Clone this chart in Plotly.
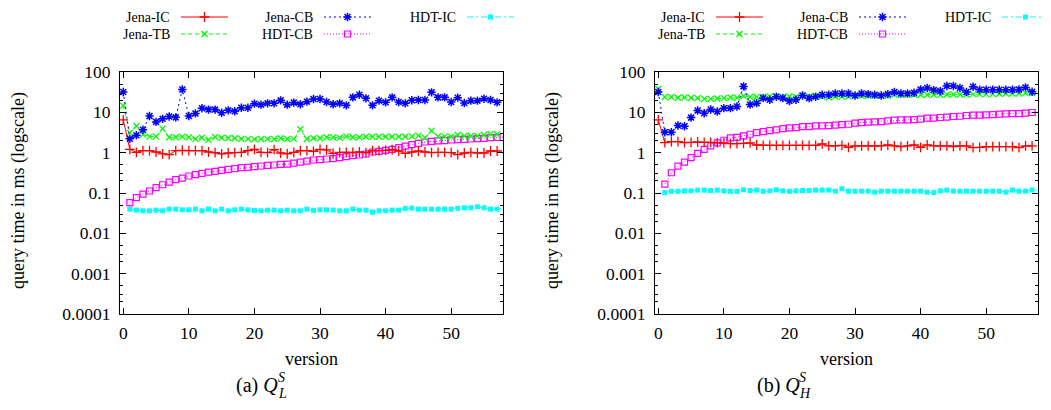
import plotly.graph_objects as go

# ---------------- data ----------------
versions_jena = list(range(0, 58))
versions_hdt = list(range(1, 59))

series_names = ["Jena-IC", "Jena-TB", "Jena-CB", "HDT-CB", "HDT-IC"]

# (a) Q_L^S
a_jena_ic = [6.5, 1.2, 1.02, 1.12, 1.12, 1.04, 0.93, 0.89, 1.12, 1.14,
             1.12, 1.12, 1.12, 1.04, 1.0, 0.93, 0.98, 1.0, 1.02, 1.12,
             1.21, 1.02, 1.0, 1.19, 0.98, 0.94, 1.02, 1.12, 1.12, 1.08,
             1.2, 1.17, 0.96, 1.02, 1.02, 1.02, 1.04, 1.0, 1.12, 1.12,
             1.14, 1.18, 1.1, 0.96, 1.04, 1.1, 1.04, 1.0, 1.02, 1.02,
             1.0, 0.89, 0.98, 1.02, 0.98, 0.98, 1.1, 1.1]
a_jena_tb = [14.6, 3.1, 4.6, 2.8, 2.5, 2.5, 3.9, 2.4, 2.4, 2.5,
             2.4, 2.2, 2.35, 2.1, 2.45, 2.35, 2.3, 2.27, 2.22, 2.2,
             2.14, 2.18, 2.2, 2.18, 2.27, 2.18, 2.2, 3.8, 2.18, 2.27,
             2.27, 2.4, 2.4, 2.35, 2.54, 2.4, 2.4, 2.49, 2.49, 2.49,
             2.49, 2.49, 2.49, 2.49, 2.54, 2.64, 2.35, 3.5, 2.54, 2.54,
             2.49, 2.74, 2.59, 2.59, 2.59, 2.74, 2.85, 2.85]
a_jena_cb = [32, 2.2, 2.7, 3.7, 8.1, 5.8, 6.9, 7.9, 7.5, 37,
             8.1, 9.4, 12.6, 11.7, 11.7, 9.8, 11.2, 10.6, 13, 13,
             16.4, 15.5, 16.7, 16.7, 19.8, 15.5, 17.4, 15.8, 18.4, 21.4,
             21.4, 18, 15.8, 16.7, 14.9, 23.5, 27.4, 22.2, 14.9, 19.5,
             17.7, 23.5, 18, 16.7, 19.9, 20.3, 20.3, 31.3, 23.5, 23.5,
             18, 23.1, 17, 19.5, 19.5, 21.8, 20.3, 17.7]
a_hdt_cb = [0.058, 0.077, 0.094, 0.112, 0.136, 0.16, 0.187, 0.214, 0.235, 0.264,
            0.284, 0.307, 0.33, 0.345, 0.365, 0.386, 0.40, 0.425, 0.43, 0.45,
            0.467, 0.485, 0.495, 0.51, 0.52, 0.55, 0.58, 0.615, 0.658, 0.67,
            0.697, 0.71, 0.752, 0.796, 0.843, 0.875, 0.927, 1.04, 1.08, 1.14,
            1.21, 1.33, 1.46, 1.58, 1.70, 1.84, 1.91, 1.95, 1.98, 2.06,
            2.1, 2.14, 2.18, 2.22, 2.27, 2.35, 2.4, 2.45]
a_hdt_ic = [0.0398, 0.0376, 0.0362, 0.0362, 0.0376, 0.0362, 0.0398, 0.0398, 0.0383, 0.0383,
            0.0398, 0.0362, 0.0398, 0.0362, 0.0398, 0.0362, 0.0383, 0.0398, 0.0383, 0.0369,
            0.0362, 0.0376, 0.0376, 0.0362, 0.0376, 0.0362, 0.0362, 0.0398, 0.0369, 0.0383,
            0.0383, 0.0376, 0.0362, 0.0362, 0.0398, 0.0376, 0.0376, 0.0335, 0.0362, 0.0362,
            0.0376, 0.0376, 0.0414, 0.0422, 0.0398, 0.0398, 0.0398, 0.0398, 0.0398, 0.0398,
            0.0414, 0.043, 0.043, 0.0455, 0.043, 0.0398, 0.0398, 0.0422]

# (b) Q_H^S
b_jena_ic = [6.5, 1.77, 1.88, 1.88, 1.77, 1.8, 1.84, 1.8, 1.8, 1.74,
             1.74, 1.67, 1.67, 1.7, 1.74, 1.55, 1.52, 1.52, 1.52, 1.52,
             1.52, 1.52, 1.52, 1.52, 1.52, 1.65, 1.47, 1.47, 1.52, 1.36,
             1.47, 1.47, 1.47, 1.47, 1.47, 1.55, 1.47, 1.41, 1.47, 1.55,
             1.36, 1.55, 1.47, 1.47, 1.47, 1.41, 1.47, 1.47, 1.33, 1.36,
             1.41, 1.41, 1.41, 1.41, 1.41, 1.33, 1.47, 1.47]
b_jena_tb = [37.8, 23.9, 23.9, 23, 23.4, 23, 22.5, 21.6, 21.6, 22,
             22.5, 23.4, 23, 25.3, 23.9, 23.9, 23.9, 24.8, 24.8, 23.9,
             24.8, 23.9, 25.7, 24.8, 25.7, 24.5, 23.4, 24.8, 24.8, 24.8,
             25.7, 25.7, 25.7, 25.7, 25.7, 25.7, 27.3, 27.3, 27.3, 27.3,
             27.3, 27.3, 27.3, 27.3, 27.8, 27.8, 27.8, 27.8, 28.3, 28.3,
             28.3, 28.3, 28.9, 29.4, 29.4, 29.4, 30, 30]
b_jena_cb = [31.8, 3.2, 3.2, 4.7, 4.5, 7.4, 11.1, 9.5, 11.8, 10.5,
             12.7, 12.7, 14, 44, 15.7, 16.9, 22.5, 20.5, 24.3, 22.5,
             19, 20.5, 26.2, 22.5, 24.3, 27.3, 27.3, 29.4, 29.4, 29.4,
             26.2, 29.4, 28.3, 27.3, 26.2, 28.3, 31.8, 29.4, 29.4, 30.6,
             37, 40, 35.6, 33.6, 44.8, 44.8, 40, 31.8, 43, 36.3,
             36.3, 36.3, 36.3, 36.3, 36.3, 37, 41.5, 32.4]
b_hdt_cb = [0.166, 0.318, 0.466, 0.586, 0.751, 0.962, 1.21, 1.47, 1.74, 2.03,
            2.32, 2.4, 2.6, 2.86, 3.15, 3.33, 3.53, 3.67, 3.96, 4.1,
            4.19, 4.44, 4.44, 4.6, 4.6, 4.7, 4.8, 4.98, 5.07, 5.37,
            5.58, 5.69, 5.8, 5.91, 6.14, 6.38, 6.5, 6.5, 6.6, 6.76,
            7.16, 7.16, 7.44, 7.58, 7.88, 8.0, 8.34, 8.5, 8.5, 8.66,
            8.8, 8.98, 9.15, 9.3, 9.3, 9.53, 9.9, 10.1]
b_hdt_ic = [0.103, 0.11, 0.11, 0.113, 0.113, 0.118, 0.118, 0.115, 0.118, 0.113,
            0.11, 0.11, 0.12, 0.115, 0.118, 0.11, 0.113, 0.12, 0.113, 0.11,
            0.113, 0.115, 0.115, 0.118, 0.118, 0.118, 0.111, 0.127, 0.111, 0.111,
            0.111, 0.111, 0.105, 0.111, 0.111, 0.111, 0.111, 0.111, 0.111, 0.111,
            0.105, 0.103, 0.113, 0.118, 0.111, 0.111, 0.111, 0.111, 0.111, 0.111,
            0.111, 0.111, 0.105, 0.118, 0.111, 0.111, 0.118, 0.118]

y_tick_vals = [0.0001, 0.001, 0.01, 0.1, 1, 10, 100]
y_tick_text = ["0.0001", "0.001", "0.01", "0.1", "1", "10", "100"]
x_tick_vals = [0, 10, 20, 30, 40, 50]
y_title = "query time in ms (logscale)"
x_title = "version"

# ---------------- styles ----------------
FONT = "Liberation Serif, Times New Roman, serif"
styles = {
    "Jena-IC": dict(color="#ff0000", dash="solid", symbol="cross-thin-open", size=7, lw=1.3),
    "Jena-TB": dict(color="#00ff00", dash="4px,3px", symbol="x-thin-open", size=6, lw=1.3),
    "Jena-CB": dict(color="#0000ff", dash="2px,3px", symbol="asterisk-open", size=7, lw=1.5),
    "HDT-CB": dict(color="#ff00ff", dash="1px,2px", symbol="square-open", size=6, lw=1.2),
    "HDT-IC": dict(color="#00ffff", dash="6px,3px,2px,3px", symbol="square", size=5, lw=0),
}

panels = [
    ("x", "y", {"Jena-IC": (versions_jena, a_jena_ic), "Jena-TB": (versions_jena, a_jena_tb),
                "Jena-CB": (versions_jena, a_jena_cb), "HDT-CB": (versions_hdt, a_hdt_cb),
                "HDT-IC": (versions_hdt, a_hdt_ic)}),
    ("x2", "y2", {"Jena-IC": (versions_jena, b_jena_ic), "Jena-TB": (versions_jena, b_jena_tb),
                  "Jena-CB": (versions_jena, b_jena_cb), "HDT-CB": (versions_hdt, b_hdt_cb),
                  "HDT-IC": (versions_hdt, b_hdt_ic)}),
]

fig = go.Figure()
draw_order = ["HDT-IC", "HDT-CB", "Jena-TB", "Jena-IC", "Jena-CB"]
for xa, ya, data in panels:
    for name in draw_order:
        xs, ys = data[name]
        st = styles[name]
        fig.add_trace(go.Scatter(
            x=xs, y=ys, mode="lines+markers", name=name, showlegend=False,
            xaxis=xa, yaxis=ya, cliponaxis=False,
            line=dict(color=st["color"], width=1, dash=st["dash"]),
            marker=dict(symbol=st["symbol"], size=st["size"], color=st["color"],
                        line=dict(color=st["color"], width=st["lw"])),
        ))

# ---------------- geometry helpers ----------------
W, H = 1051, 410
OFF = 8  # page body margin of the written html


def pxx(x):
    return (x - OFF) / W


def pxy(y):
    return 1 - (y - OFF) / H


# ---------------- custom gnuplot-style key ----------------
key_layout = {"Jena-IC": (0, 0), "Jena-TB": (0, 1), "Jena-CB": (1, 0), "HDT-CB": (1, 1), "HDT-IC": (2, 0)}
col_text_right = [171, 314, 457]
row_y = [17, 34]
panel_offset = [0, 535]
annotations = []
for off in panel_offset:
    for name in series_names:
        c, r = key_layout[name]
        st = styles[name]
        tx = col_text_right[c] + off
        x0, x1 = tx + 10, tx + 57
        yy = row_y[r]
        fig.add_trace(go.Scatter(
            x=[x0 - OFF, x1 - OFF], y=[yy - OFF, yy - OFF], mode="lines", xaxis="x3", yaxis="y3",
            showlegend=False, line=dict(color=st["color"], width=1, dash=st["dash"]),
            hoverinfo="skip", cliponaxis=False))
        fig.add_trace(go.Scatter(
            x=[(x0 + x1) / 2 - OFF], y=[yy - OFF], mode="markers", xaxis="x3", yaxis="y3",
            showlegend=False,
            marker=dict(symbol=st["symbol"], size=st["size"], color=st["color"],
                        line=dict(color=st["color"], width=st["lw"])), hoverinfo="skip", cliponaxis=False))
        annotations.append(dict(x=pxx(tx), y=pxy(yy), xref="paper", yref="paper", text=name,
                                showarrow=False, xanchor="right", yanchor="middle", borderpad=0,
                                font=dict(family=FONT, size=14, color="black")))

# plot geometry (page pixels)
left_dom = [pxx(120), pxx(503)]
right_dom = [pxx(655), pxx(1038)]
y_dom = [pxy(314), pxy(72)]

minor_vals = []
for e in range(-4, 2):
    for m in (2, 3, 5):
        minor_vals.append(m * 10 ** e)


def yaxis_cfg(anchor):
    return dict(type="log", range=[-4, 2], domain=y_dom, anchor=anchor,
                tickmode="array", tickvals=y_tick_vals, ticktext=y_tick_text,
                ticks="inside", ticklen=6, tickwidth=1, tickcolor="black",
                showline=True, linecolor="black", linewidth=1.2, mirror="allticks",
                showgrid=False, zeroline=False, ticklabelstandoff=5, automargin=False,
                minor=dict(ticks="inside", ticklen=3, tickwidth=1, tickcolor="black",
                           tickmode="array", tickvals=minor_vals, showgrid=False),
                tickfont=dict(family=FONT, size=17.5, color="black"))


def xaxis_cfg(dom, anchor):
    return dict(range=[-0.5, 57.9], domain=dom, anchor=anchor,
                tickmode="array", tickvals=x_tick_vals,
                ticks="inside", ticklen=6, tickwidth=1, tickcolor="black",
                showline=True, linecolor="black", linewidth=1.2, mirror="allticks",
                showgrid=False, zeroline=False, ticklabelstandoff=3, automargin=False,
                tickfont=dict(family=FONT, size=17.5, color="black"))


# axis titles and captions
for cx, ycx, capx, cap_letter, sub in [((120 + 503) / 2, 19, 234, "(a)", "L"),
                                       ((655 + 1038) / 2, 553, 755, "(b)", "H")]:
    annotations.append(dict(x=pxx(cx), y=pxy(359), xref="paper", yref="paper", text=x_title,
                            showarrow=False, xanchor="center", yanchor="middle",
                            font=dict(family=FONT, size=18, color="black")))
    annotations.append(dict(x=pxx(ycx), y=pxy(191), xref="paper", yref="paper", text=y_title,
                            showarrow=False, xanchor="center", yanchor="middle", textangle=-90,
                            font=dict(family=FONT, size=18, color="black")))
    annotations.append(dict(x=pxx(capx), y=pxy(385), xref="paper", yref="paper",
                            text=cap_letter + " <i>Q</i>", showarrow=False, xanchor="left",
                            yanchor="middle", font=dict(family=FONT, size=20, color="black")))
    annotations.append(dict(x=pxx(capx + 42), y=pxy(377), xref="paper", yref="paper",
                            text="<i>S</i>", showarrow=False, xanchor="left",
                            yanchor="middle", font=dict(family=FONT, size=14, color="black")))
    annotations.append(dict(x=pxx(capx + 42), y=pxy(393), xref="paper", yref="paper",
                            text="<i>" + sub + "</i>", showarrow=False, xanchor="left",
                            yanchor="middle", font=dict(family=FONT, size=14, color="black")))

fig.update_layout(
    width=W, height=H, margin=dict(l=0, r=0, t=0, b=0, autoexpand=False),
    paper_bgcolor="white", plot_bgcolor="rgba(0,0,0,0)", showlegend=False,
    xaxis=xaxis_cfg(left_dom, "y"), yaxis=yaxis_cfg("x"),
    xaxis2=xaxis_cfg(right_dom, "y2"), yaxis2=yaxis_cfg("x2"),
    xaxis3=dict(domain=[0, 1], range=[0, W], visible=False, anchor="y3", fixedrange=True,
                automargin=False),
    yaxis3=dict(domain=[0, 1], range=[H, 0], visible=False, anchor="x3", fixedrange=True,
                automargin=False),
    annotations=annotations,
)

fig.write_html("out.html")
